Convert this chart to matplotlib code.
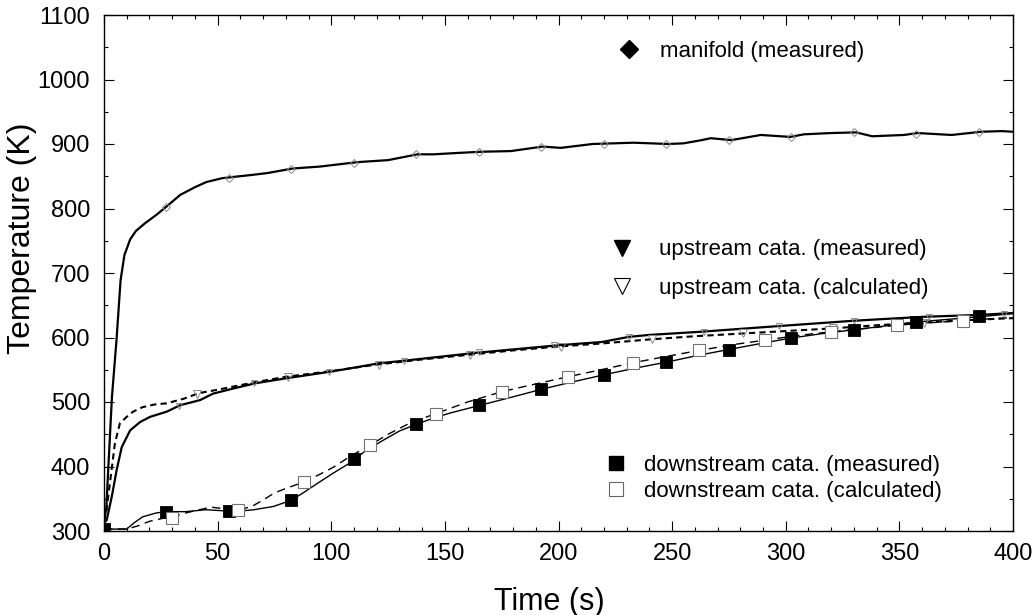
import matplotlib
matplotlib.use("Agg")
import matplotlib.pyplot as plt
from matplotlib.lines import Line2D
from matplotlib.ticker import MultipleLocator

plt.rcParams['font.family'] = ['Liberation Sans', 'DejaVu Sans']

# ---- manifold (measured) ----
t_manifold = [0, 1, 2, 3.5, 5.5, 7.3, 9, 11.5, 14, 18, 23, 27.5, 33.5, 40, 45, 52, 57, 65, 72,
              83, 95, 107, 112, 125, 138, 145, 155, 166, 179, 193, 201, 215, 233, 241, 248, 255,
              263, 267, 276, 289, 302, 308, 320, 331, 338, 352, 358, 373, 386, 395, 400]
T_manifold = [315, 335, 405, 508, 596, 689, 728, 752, 765, 777, 790, 803, 821, 833, 841, 847, 849,
              852, 855, 862, 865, 870, 872, 875, 884, 884, 886, 888, 889, 896, 894, 900, 902, 901,
              900, 901, 906, 909, 906, 914, 911, 915, 917, 918, 912, 914, 917, 914, 919, 920, 919]
t_manifold_pts = [27.5, 55, 82.5, 110, 137.5, 165, 192.5, 220, 247.5, 275, 302.5, 330, 357.5, 385]
T_manifold_pts = [803, 848, 862, 871, 884, 888, 896, 900, 900, 906, 911, 918, 916, 919]

# ---- upstream catalyst (measured) ----
t_up_meas = [0, 1.2, 3.4, 5.6, 7.8, 11.5, 15.9, 20.3, 27.6, 33.5, 42.3, 48, 57, 66.5, 80.6, 99.6,
             108, 121, 132, 163, 200, 219, 231, 240, 263, 298, 330, 360, 385, 400]
T_up_meas = [312, 317, 353, 395, 430, 456, 469, 477, 485, 495, 503, 513, 521, 529, 537, 547,
             552, 560, 564, 576, 588, 593, 601, 604, 609, 618, 626, 632, 635, 638]
t_up_meas_pts = [33, 66, 99, 132, 165, 198, 231, 264, 297, 330, 363, 396]
T_up_meas_pts = [494, 529, 547, 564, 577, 588, 601, 609, 618, 626, 632, 637]

# ---- upstream catalyst (calculated) ----
t_up_calc = [0, 1, 2.6, 4.8, 7, 10, 12.8, 17, 22, 27.6, 35, 42, 50, 57, 67, 80, 100, 120, 140,
             160, 180, 200, 220, 240, 260, 280, 300, 320, 340, 360, 380, 400]
T_up_calc = [315, 330, 374, 436, 467, 477, 485, 492, 496, 498, 505, 514, 519, 524, 531, 539, 548,
             558, 566, 573, 580, 586, 591, 597, 602, 606, 610, 614, 619, 623, 627, 630]
t_up_calc_pts = [41, 81, 121, 161, 201, 241, 281, 321, 361]
T_up_calc_pts = [513, 539, 558, 573, 586, 597, 607, 615, 623]

# ---- downstream catalyst (measured) ----
t_down_meas = [0, 10, 13, 17, 23, 27.5, 36, 45, 54, 60, 66, 74.5, 82.7, 88, 94, 101, 108, 115,
               123, 130, 137.8, 145, 152.4, 165.6, 180, 192.8, 206, 219.8, 233, 247.8, 261, 274.3,
               288, 302, 316, 330, 344, 357.3, 371, 384.5, 400]
T_down_meas = [303, 303, 312, 322, 328, 330, 330, 333, 331, 331, 333, 338, 348, 360, 374, 390,
               405, 424, 441, 455, 466, 475, 483, 495, 508, 520, 531, 542, 552, 562, 572, 581,
               590, 599, 606, 612, 618, 624, 628, 632, 637]
t_down_meas_pts = [0, 27.5, 55, 82.5, 110, 137.5, 165, 192.5, 220, 247.5, 275, 302.5, 330,
                   357.5, 385]
T_down_meas_pts = [303, 330, 331, 348, 411, 466, 495, 520, 542, 562, 581, 599, 612, 624, 633]

# ---- downstream catalyst (calculated) ----
t_down_calc = [0, 10, 15, 20, 25, 30, 36, 42, 47, 52, 57, 62, 66, 70, 75, 80, 88, 95, 101, 108,
               117, 125, 135, 146, 160, 175, 190, 204, 220, 233, 248, 262, 277, 291, 305, 320,
               335, 349, 364, 378, 390, 400]
T_down_calc = [303, 303, 308, 315, 319, 322, 328, 333, 337, 335, 333, 335, 340, 348, 359, 366,
               376, 388, 399, 415, 433, 450, 468, 482, 500, 516, 528, 539, 551, 561, 571, 580,
               589, 596, 603, 609, 614, 619, 623, 626, 629, 631]
t_down_calc_pts = [30, 59, 88, 117, 146, 175, 204, 233, 262, 291, 320, 349, 378]
T_down_calc_pts = [320, 333, 376, 433, 482, 516, 539, 561, 580, 596, 609, 619, 626]

x_ticks = [0, 50, 100, 150, 200, 250, 300, 350, 400]
y_ticks = [300, 400, 500, 600, 700, 800, 900, 1000, 1100]

fig = plt.figure(figsize=(10.36, 6.15), dpi=100)
ax = fig.add_axes([104 / 1036, 84 / 615, 909 / 1036, 516 / 615])

# curves
ax.plot(t_manifold, T_manifold, color='black', lw=1.6, zorder=3)
ax.plot(t_up_meas, T_up_meas, color='black', lw=1.6, zorder=3)
ax.plot(t_up_calc, T_up_calc, color='black', lw=1.5, dashes=(3, 2), zorder=3)
ax.plot(t_down_meas, T_down_meas, color='black', lw=1.0, zorder=3)
ax.plot(t_down_calc, T_down_calc, color='black', lw=1.0, dashes=(6, 4), zorder=3)

# sample markers
ax.plot(t_manifold_pts, T_manifold_pts, ls='none', marker='D', ms=4, mfc='none',
        mec='0.55', mew=0.7, zorder=4)
ax.plot(t_up_meas_pts, T_up_meas_pts, ls='none', marker='v', ms=5, mfc='none',
        mec='0.55', mew=0.7, zorder=4)
ax.plot(t_up_calc_pts, T_up_calc_pts, ls='none', marker='v', ms=6, mfc='none',
        mec='0.55', mew=0.7, zorder=4)
ax.plot(t_down_meas_pts, T_down_meas_pts, ls='none', marker='s', ms=8.5, mfc='black',
        mec='black', mew=0.6, zorder=5)
ax.plot(t_down_calc_pts, T_down_calc_pts, ls='none', marker='s', ms=8, mfc='white',
        mec='0.45', mew=0.8, zorder=5)

# axes styling
ax.set_xlim(0, 400)
ax.set_ylim(300, 1100)
ax.set_xticks(x_ticks)
ax.set_yticks(y_ticks)
ax.xaxis.set_minor_locator(MultipleLocator(10))
ax.yaxis.set_minor_locator(MultipleLocator(50))
ax.tick_params(which='both', direction='in', top=True, right=True, width=0.8, color='black')
ax.tick_params(which='major', length=7, labelsize=17)
ax.tick_params(which='minor', length=3)
ax.tick_params(axis='y', which='major', pad=10)
ax.tick_params(axis='x', which='major', pad=9)
for sp in ax.spines.values():
    sp.set_linewidth(1.0)

ax.set_xlabel('Time (s)', fontsize=22)
ax.xaxis.set_label_coords(0.49, -0.108)
ax.set_ylabel('Temperature (K)', fontsize=23)
ax.yaxis.set_label_coords(-0.074, 0.568)

# legends
leg_kw = dict(frameon=False, fontsize=16, handlelength=1.0, borderpad=0, borderaxespad=0,
              loc='center left', numpoints=1)

h_man = [Line2D([], [], ls='none', marker='D', ms=9, mfc='black', mec='black')]
leg1 = ax.legend(h_man, ['manifold (measured)'], bbox_to_anchor=(0.565, 0.930),
                 handletextpad=0.9, **leg_kw)
ax.add_artist(leg1)

h_up = [Line2D([], [], ls='none', marker='v', ms=11, mfc='black', mec='black'),
        Line2D([], [], ls='none', marker='v', ms=11, mfc='white', mec='black', mew=0.8)]
leg2 = ax.legend(h_up, ['upstream cata. (measured)', 'upstream cata. (calculated)'],
                 bbox_to_anchor=(0.558, 0.507), handletextpad=1.15, labelspacing=0.8, **leg_kw)
ax.add_artist(leg2)

h_down = [Line2D([], [], ls='none', marker='s', ms=10, mfc='black', mec='black'),
          Line2D([], [], ls='none', marker='s', ms=10, mfc='white', mec='0.4', mew=0.8)]
leg3 = ax.legend(h_down, ['downstream cata. (measured)', 'downstream cata. (calculated)'],
                 bbox_to_anchor=(0.551, 0.102), handletextpad=0.75, labelspacing=0.25, **leg_kw)

fig.savefig('out.png', dpi=100)
